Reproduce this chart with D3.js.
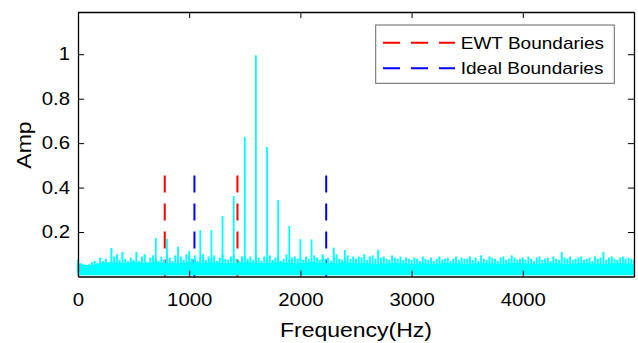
<!DOCTYPE html>
<html>
<head>
<meta charset="utf-8">
<script src="https://cdn.jsdelivr.net/npm/d3@7"></script>
<style>
  body { margin: 0; background: #fff; }
  svg { display: block; font-family: "Liberation Sans", Arial, sans-serif; }
</style>
</head>
<body>
<div id="chart"></div>
<script>
// spectrum peaks (Hz, amplitude)
const peakFreq = [700, 800, 900, 1000, 1100, 1200, 1300, 1400, 1500, 1600, 1700, 1800, 1900, 2000, 2100, 2200, 2300, 2400];
const peakAmp  = [0.173, 0.17, 0.134, 0.116, 0.209, 0.209, 0.272, 0.362, 0.628, 0.995, 0.583, 0.344, 0.227, 0.168, 0.167, 0.1, 0.13, 0.119];

// noise spikes, one every 25 Hz from 0 to 5000
const noiseStep = 25;
const noiseAmp = [
  0.075,0.06,0.05,0.045,0.055,0.065,0.07,0.06,0.085,0.07,0.08,0.065,0.128,0.09,0.1,0.075,0.11,0.08,0.07,0.085,
  0.075,0.11,0.07,0.09,0.1,0.065,0.085,0.095,0.08,0.07,0.09,0.075,0.1,0.085,0.07,0.095,0.08,0.09,0.075,0.1,
  0.09,0.08,0.095,0.07,0.085,0.1,0.075,0.09,0.08,0.095,0.07,0.085,0.1,0.08,0.075,0.09,0.095,0.08,0.07,0.09,
  0.095,0.08,0.09,0.075,0.1,0.085,0.07,0.09,0.08,0.095,0.075,0.085,0.09,0.07,0.08,0.1,0.075,0.085,0.09,0.08,
  0.085,0.075,0.09,0.08,0.07,0.095,0.085,0.075,0.09,0.08,0.085,0.07,0.09,0.1,0.08,0.075,0.085,0.095,0.08,0.09,
  0.08,0.09,0.085,0.1,0.075,0.09,0.095,0.08,0.12,0.085,0.09,0.08,0.075,0.095,0.085,0.08,0.09,0.075,0.085,0.08,
  0.075,0.085,0.08,0.07,0.09,0.08,0.075,0.085,0.07,0.08,0.09,0.075,0.08,0.085,0.07,0.08,0.09,0.075,0.085,0.08,
  0.08,0.09,0.075,0.085,0.07,0.095,0.08,0.075,0.09,0.085,0.08,0.07,0.085,0.09,0.075,0.08,0.095,0.085,0.075,0.08,
  0.085,0.075,0.09,0.08,0.07,0.085,0.09,0.075,0.08,0.085,0.07,0.09,0.08,0.075,0.11,0.085,0.08,0.09,0.075,0.08,
  0.085,0.09,0.075,0.08,0.085,0.07,0.09,0.08,0.085,0.11,0.075,0.085,0.09,0.08,0.075,0.085,0.09,0.08,0.085,0.08,0.075
];

// solid noise band top, one every 100 Hz
const bandStep = 100;
const bandTop = [
  0.06,0.05,0.06,0.065,0.06,0.065,0.06,0.065,0.06,0.06,0.065,0.06,0.065,0.06,0.06,0.065,0.06,0.06,0.065,0.06,
  0.06,0.065,0.06,0.06,0.065,0.06,0.06,0.055,0.06,0.06,0.055,0.06,0.055,0.06,0.06,0.055,0.06,0.06,0.055,0.06,
  0.06,0.055,0.06,0.06,0.055,0.06,0.06,0.055,0.06,0.06,0.055
];

// boundaries
const ewtBounds = [780, 1434];
const idealBounds = [1047, 2232];
const boundTop = 0.465;

const legendLabels = ["EWT Boundaries", "Ideal Boundaries"];
const xTicks = [0, 1000, 2000, 3000, 4000];
const yTicks = [0.2, 0.4, 0.6, 0.8, 1];

const width = 638, height = 343;
const mLeft = 78, mRight = 634, mTop = 12, mBottom = 276.5;
const sx = 1.15; // horizontal stretch of the text

const svg = d3.select("#chart").append("svg")
    .attr("width", width)
    .attr("height", height);

const x = d3.scaleLinear().domain([0, 5000]).range([mLeft, mRight]);
const y = d3.scaleLinear().domain([0, 1.19]).range([mBottom, mTop]);

// boundary lines (drawn under the spectrum)
const bounds = ewtBounds.map(f => ({ f, c: "#ff0000" }))
    .concat(idealBounds.map(f => ({ f, c: "#0000ff" })));
svg.append("g").selectAll("line")
    .data(bounds)
    .enter().append("line")
    .attr("x1", d => x(d.f)).attr("x2", d => x(d.f))
    .attr("y1", y(0)).attr("y2", y(boundTop))
    .attr("stroke", d => d.c)
    .attr("stroke-width", 2)
    .attr("stroke-dasharray", "17,11");

// spectrum
const spec = svg.append("g");
spec.append("path")
    .datum(bandTop)
    .attr("fill", "#00ffff")
    .attr("d", d3.area()
        .x((d, i) => x(i * bandStep))
        .y0(y(0.006))
        .y1(d => y(d)));

spec.selectAll("line.noise")
    .data(noiseAmp)
    .enter().append("line")
    .attr("class", "noise")
    .attr("x1", (d, i) => x(i * noiseStep)).attr("x2", (d, i) => x(i * noiseStep))
    .attr("y1", y(0.006)).attr("y2", d => y(d))
    .attr("stroke", "#00ffff")
    .attr("stroke-width", 2);

spec.selectAll("line.peak")
    .data(peakFreq)
    .enter().append("line")
    .attr("class", "peak")
    .attr("x1", d => x(d)).attr("x2", d => x(d))
    .attr("y1", y(0.006)).attr("y2", (d, i) => y(peakAmp[i]))
    .attr("stroke", "#00ffff")
    .attr("stroke-width", 1.8);

// axes (box with inward ticks)
function styleAxis(g) {
    g.select(".domain").attr("stroke", "#000").attr("stroke-width", 1.3);
    g.selectAll(".tick line").attr("stroke", "#000").attr("stroke-width", 1);
}

svg.append("g")
    .attr("transform", `translate(0,${mBottom})`)
    .call(d3.axisBottom(x).tickValues(xTicks).tickSizeInner(-6).tickSizeOuter(0).tickPadding(17)
        .tickFormat(d3.format("d")))
    .call(styleAxis)
    .call(g => g.selectAll("text")
        .attr("font-size", 17.7).attr("fill", "#000")
        .attr("font-family", "Liberation Sans, Arial, sans-serif")
        .attr("transform", `scale(${sx},1)`));

svg.append("g")
    .attr("transform", `translate(0,${mTop})`)
    .call(d3.axisTop(x).tickValues(xTicks).tickSizeInner(-6).tickSizeOuter(0).tickFormat(""))
    .call(styleAxis);

svg.append("g")
    .attr("transform", `translate(${mLeft},0)`)
    .call(d3.axisLeft(y).tickValues(yTicks).tickSizeInner(-6).tickSizeOuter(0).tickPadding(7)
        .tickFormat(d3.format("~g")))
    .call(styleAxis)
    .call(g => g.selectAll("text")
        .attr("font-size", 17.7).attr("fill", "#000")
        .attr("font-family", "Liberation Sans, Arial, sans-serif")
        .attr("transform", `scale(${sx},1)`));

svg.append("g")
    .attr("transform", `translate(${mRight},0)`)
    .call(d3.axisRight(y).tickValues(yTicks).tickSizeInner(-6).tickSizeOuter(0).tickFormat(""))
    .call(styleAxis);

// axis labels
svg.append("text")
    .attr("transform", `translate(${(mLeft + mRight) / 2},337) scale(${sx},1)`)
    .attr("text-anchor", "middle")
    .attr("font-size", 20)
    .text("Frequency(Hz)");

svg.append("text")
    .attr("transform", `translate(31,145) rotate(-90) scale(${sx},1)`)
    .attr("text-anchor", "middle")
    .attr("font-size", 20)
    .text("Amp");

// legend
const legend = svg.append("g");
legend.append("rect")
    .attr("x", 375.7).attr("y", 25)
    .attr("width", 238.6).attr("height", 58.3)
    .attr("fill", "#fff")
    .attr("stroke", "#666")
    .attr("stroke-width", 1);

const rows = legend.selectAll("g.row")
    .data(legendLabels)
    .enter().append("g")
    .attr("class", "row")
    .attr("transform", (d, i) => `translate(0,${42.7 + i * 25.6})`);

rows.append("line")
    .attr("x1", 383).attr("x2", 455)
    .attr("stroke", (d, i) => i === 0 ? "#ff0000" : "#0000ff")
    .attr("stroke-width", 2)
    .attr("stroke-dasharray", "17,11");

rows.append("text")
    .attr("transform", `translate(460.7,6.1) scale(1.12,1)`)
    .attr("font-size", 17)
    .text(d => d);
</script>
</body>
</html>
